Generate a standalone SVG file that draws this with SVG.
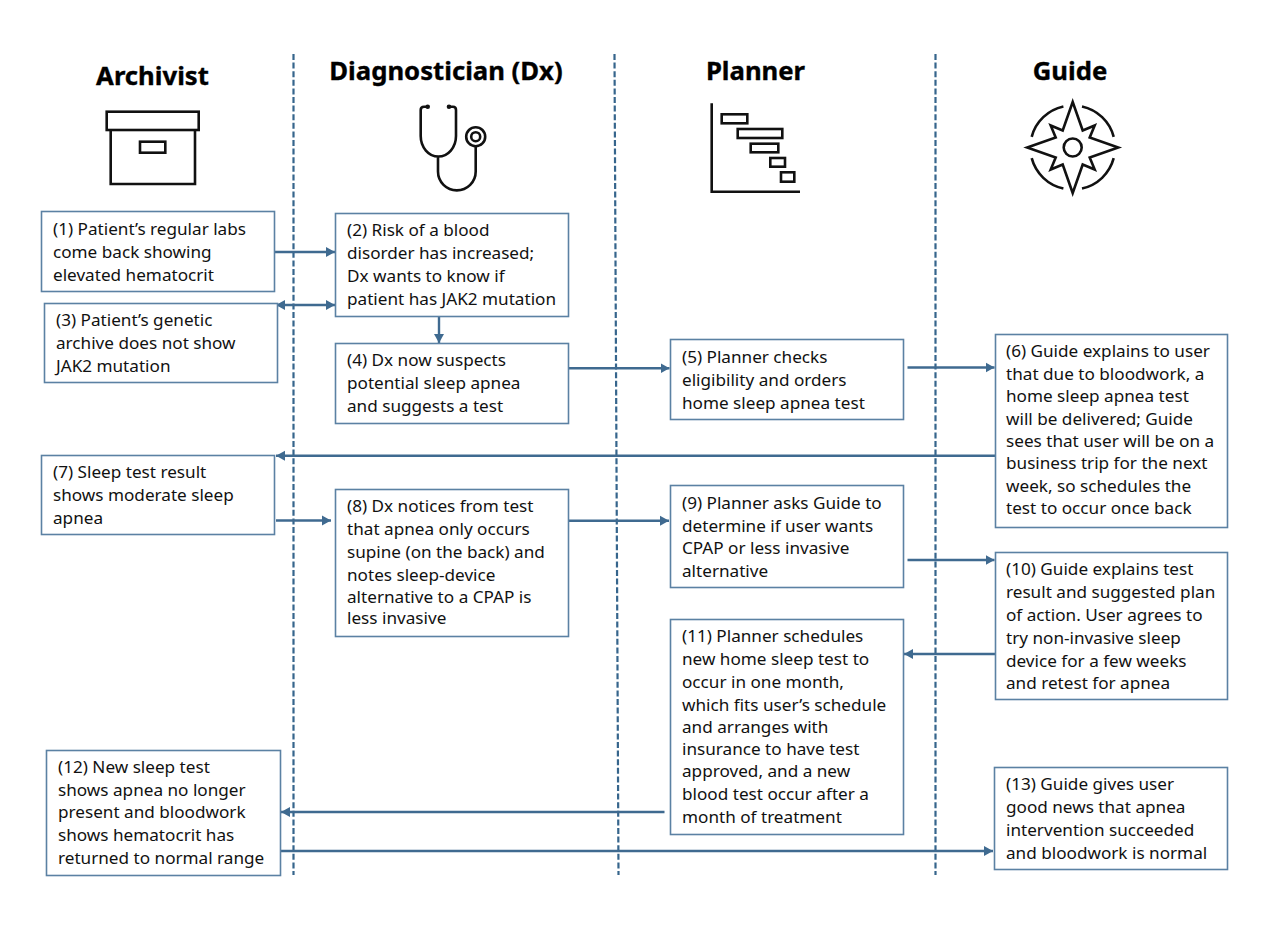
<svg xmlns="http://www.w3.org/2000/svg" width="1273" height="930" viewBox="0 0 1273 930">
<style>
.lane{stroke:#36658c;stroke-width:2.2;stroke-dasharray:6 2.6;fill:none}
.box{fill:#fff;stroke:#5b81a3;stroke-width:1.6}
.t{font-family:"Noto Sans","Liberation Sans",sans-serif;font-size:17.15px;fill:#111}
.h{font-family:"Noto Sans","Liberation Sans",sans-serif;font-size:25.7px;font-weight:700;fill:#000;stroke:#000;stroke-width:.35;text-anchor:middle}
.c{stroke:#3f6a90;stroke-width:2.4;fill:none;marker-end:url(#a)}
.i{fill:none;stroke:#111;stroke-width:2.6}
</style>
<defs><marker id="a" markerUnits="userSpaceOnUse" markerWidth="12" markerHeight="12" refX="9" refY="6" orient="auto-start-reverse"><path d="M0 1 L9 6 L0 11Z" fill="#3f6a90"/></marker></defs>
<rect width="1273" height="930" fill="#fff"/>
<g id="lanes">
<path class="lane" d="M293.500 54V875"/><path class="lane" d="M614.500 54L618.500 875"/><path class="lane" d="M935.500 54V875"/>
</g>
<g id="head-archivist"><text class="h" x="152.500" y="85">Archivist</text>
<rect class="i" x="106.700" y="111.700" width="92" height="18.300"/><path class="i" d="M110.700 130V184H195V130"/><rect class="i" x="140" y="141.700" width="25.300" height="11"/></g>
<g id="head-dx"><text class="h" x="446" y="80">Diagnostician (Dx)</text>
<path class="i" d="M427.700 106.700H424Q420.700 106.700 420.700 110V136A17.600 20.500 0 0 0 456 136V110Q456 106.700 453 106.700H449M438 156.700V171.500A18.800 18.800 0 0 0 475.700 171.500V147"/><circle cx="427.700" cy="106.700" r="2.300" fill="#111"/><circle cx="449" cy="106.700" r="2.300" fill="#111"/><circle class="i" cx="475.700" cy="136.700" r="9.500"/><circle class="i" cx="475.700" cy="136.700" r="4.500"/></g>
<g id="head-planner"><text class="h" x="755.500" y="80">Planner</text>
<path class="i" d="M711.700 103.300V191.700H800"/><rect class="i" x="721.700" y="114.300" width="25.600" height="9"/><rect class="i" x="737.700" y="129" width="44.600" height="9"/><rect class="i" x="750.700" y="143.700" width="27.600" height="8.600"/><rect class="i" x="770.300" y="158" width="14.700" height="8.700"/><rect class="i" x="781" y="172.300" width="13.300" height="9.400"/></g>
<g id="head-guide"><text class="h" x="1070" y="80">Guide</text>
<g transform="translate(1072.700 147.500)"><path class="i" d="M0 -45.500L10 -17L22 -22L17 -10L45.500 0L17 10L22 22L10 17L0 45.500L-10 17L-22 22L-17 10L-45.500 0L-17 -10L-22 -22L-10 -17Z"/><circle class="i" r="9"/><path class="i" d="M-41 -10.700A42 42 0 0 1 -9.300 -41M9.300 -41A42 42 0 0 1 41 -10.700M41 10.700A42 42 0 0 1 9.300 41M-9.300 41A42 42 0 0 1 -41 10.700"/></g></g>
<g id="connectors">
<path class="c" d="M274 252H335"/>
<path class="c" d="M276 305H335" style="marker-start:url(#a)"/>
<path class="c" d="M439 316V343"/>
<path class="c" d="M568 368.300H669.500"/>
<path class="c" d="M907.500 367.500H994.500"/>
<path class="c" d="M995 455.800H276"/>
<path class="c" d="M276 520.500H331"/>
<path class="c" d="M568 520.700H669"/>
<path class="c" d="M907.500 560H994.500"/>
<path class="c" d="M995 654H904"/>
<path class="c" d="M664.500 812H281"/>
<path class="c" d="M280 851H993"/>
</g>
<g id="n1"><rect class="box" x="41.500" y="211.500" width="233" height="80"/><text class="t"><tspan x="53" y="235">(1) Patient’s regular labs</tspan><tspan x="53" y="258">come back showing</tspan><tspan x="53" y="281">elevated hematocrit</tspan></text></g>
<g id="n2"><rect class="box" x="335.500" y="213.500" width="233" height="103"/><text class="t"><tspan x="347" y="236">(2) Risk of a blood</tspan><tspan x="347" y="259">disorder has increased;</tspan><tspan x="347" y="282">Dx wants to know if</tspan><tspan x="347" y="305">patient has JAK2 mutation</tspan></text></g>
<g id="n3"><rect class="box" x="44.500" y="303.500" width="233" height="79"/><text class="t"><tspan x="56" y="326">(3) Patient’s genetic</tspan><tspan x="56" y="349">archive does not show</tspan><tspan x="56" y="372">JAK2 mutation</tspan></text></g>
<g id="n4"><rect class="box" x="335.500" y="343.500" width="233" height="80"/><text class="t"><tspan x="347" y="366">(4) Dx now suspects</tspan><tspan x="347" y="389">potential sleep apnea</tspan><tspan x="347" y="412">and suggests a test</tspan></text></g>
<g id="n5"><rect class="box" x="670.500" y="339.500" width="233" height="80"/><text class="t"><tspan x="682" y="363">(5) Planner checks</tspan><tspan x="682" y="386">eligibility and orders</tspan><tspan x="682" y="409">home sleep apnea test</tspan></text></g>
<g id="n6"><rect class="box" x="995.500" y="334.500" width="232" height="193"/><text class="t"><tspan x="1006" y="357">(6) Guide explains to user</tspan><tspan x="1006" y="380">that due to bloodwork, a</tspan><tspan x="1006" y="402">home sleep apnea test</tspan><tspan x="1006" y="425">will be delivered; Guide</tspan><tspan x="1006" y="447">sees that user will be on a</tspan><tspan x="1006" y="469">business trip for the next</tspan><tspan x="1006" y="492">week, so schedules the</tspan><tspan x="1006" y="514">test to occur once back</tspan></text></g>
<g id="n7"><rect class="box" x="41.500" y="455.500" width="233" height="79"/><text class="t"><tspan x="53" y="478">(7) Sleep test result</tspan><tspan x="53" y="501">shows moderate sleep</tspan><tspan x="53" y="524">apnea</tspan></text></g>
<g id="n8"><rect class="box" x="335.500" y="489.500" width="233" height="147"/><text class="t"><tspan x="347" y="512">(8) Dx notices from test</tspan><tspan x="347" y="535">that apnea only occurs</tspan><tspan x="347" y="558">supine (on the back) and</tspan><tspan x="347" y="581">notes sleep-device</tspan><tspan x="347" y="603">alternative to a CPAP is</tspan><tspan x="347" y="624">less invasive</tspan></text></g>
<g id="n9"><rect class="box" x="670.500" y="485.500" width="233" height="102"/><text class="t"><tspan x="682" y="509">(9) Planner asks Guide to</tspan><tspan x="682" y="532">determine if user wants</tspan><tspan x="682" y="554">CPAP or less invasive</tspan><tspan x="682" y="577">alternative</tspan></text></g>
<g id="n10"><rect class="box" x="995.500" y="552.500" width="232" height="147"/><text class="t"><tspan x="1006" y="575">(10) Guide explains test</tspan><tspan x="1006" y="598">result and suggested plan</tspan><tspan x="1006" y="621">of action. User agrees to</tspan><tspan x="1006" y="644">try non-invasive sleep</tspan><tspan x="1006" y="667">device for a few weeks</tspan><tspan x="1006" y="689">and retest for apnea</tspan></text></g>
<g id="n11"><rect class="box" x="670.500" y="619.500" width="233" height="215"/><text class="t"><tspan x="682" y="642">(11) Planner schedules</tspan><tspan x="682" y="665">new home sleep test to</tspan><tspan x="682" y="688">occur in one month,</tspan><tspan x="682" y="711">which fits user’s schedule</tspan><tspan x="682" y="733">and arranges with</tspan><tspan x="682" y="755">insurance to have test</tspan><tspan x="682" y="777">approved, and a new</tspan><tspan x="682" y="800">blood test occur after a</tspan><tspan x="682" y="823">month of treatment</tspan></text></g>
<g id="n12"><rect class="box" x="46.500" y="750.500" width="234" height="125"/><text class="t"><tspan x="58" y="773">(12) New sleep test</tspan><tspan x="58" y="796">shows apnea no longer</tspan><tspan x="58" y="818">present and bloodwork</tspan><tspan x="58" y="841">shows hematocrit has</tspan><tspan x="58" y="864">returned to normal range</tspan></text></g>
<g id="n13"><rect class="box" x="994.500" y="767.500" width="233" height="102"/><text class="t"><tspan x="1006" y="790">(13) Guide gives user</tspan><tspan x="1006" y="813">good news that apnea</tspan><tspan x="1006" y="836">intervention succeeded</tspan><tspan x="1006" y="859">and bloodwork is normal</tspan></text></g>
</svg>
